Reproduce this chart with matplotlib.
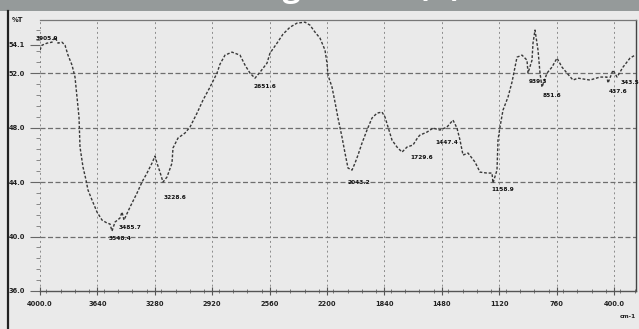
import matplotlib.pyplot as plt
from matplotlib.lines import Line2D
from matplotlib.patches import Rectangle
from matplotlib.ticker import MultipleLocator

# spectrum (wavenumber cm-1, %T)
wavenumber = [4000.0, 3987.5, 3956.1, 3924.7, 3905.9, 3887.1, 3862.0, 3843.2, 3824.4, 3799.3,
              3780.5, 3767.9, 3755.4, 3749.1, 3730.3, 3711.5, 3698.9, 3673.8, 3642.5, 3611.1,
              3579.8, 3561.0, 3548.4, 3529.6, 3498.3, 3485.7, 3473.2, 3435.5, 3391.6, 3360.3,
              3328.9, 3297.6, 3278.7, 3266.2, 3247.4, 3228.6, 3203.5, 3172.2, 3165.9, 3134.5,
              3090.6, 3059.2, 3015.3, 2977.7, 2933.8, 2889.9, 2871.1, 2839.7, 2795.8, 2745.6,
              2714.3, 2682.9, 2651.6, 2620.2, 2576.3, 2557.5, 2513.6, 2476.0, 2432.1, 2388.2,
              2338.0, 2306.6, 2275.3, 2243.9, 2212.6, 2200.0, 2193.7, 2168.6, 2149.8, 2131.0,
              2105.9, 2087.1, 2068.3, 2043.2, 2024.4, 2005.6, 1980.5, 1949.1, 1917.8, 1886.4,
              1855.0, 1836.2, 1817.4, 1792.3, 1760.9, 1729.6, 1698.2, 1660.6, 1629.3, 1616.7,
              1572.8, 1535.2, 1491.3, 1447.4, 1409.8, 1384.7, 1365.8, 1347.0, 1315.7, 1271.8,
              1240.4, 1196.5, 1165.2, 1158.9, 1133.8, 1127.5, 1115.0, 1096.2, 1064.8, 1039.7,
              1020.9, 1008.3, 977.0, 945.6, 939.3, 914.3, 908.0, 895.4, 876.6, 864.1,
              851.6, 820.2, 788.9, 757.5, 726.2, 694.8, 657.2, 625.8, 550.5, 487.8,
              443.9, 437.6, 406.2, 381.1, 343.5, 299.6, 268.2]
transmittance = [53.69, 54.05, 54.20, 54.27, 54.64, 54.20, 54.27, 54.05, 53.32, 52.59,
                 51.71, 50.24, 48.77, 46.57, 45.10, 44.15, 43.41, 42.68, 41.80, 41.21,
                 40.99, 40.92, 40.40, 41.06, 41.36, 41.80, 41.21, 42.16, 43.19, 44.00,
                 44.66, 45.39, 45.91, 45.39, 44.73, 44.00, 44.37, 45.39, 46.50, 47.23,
                 47.60, 48.04, 49.06, 50.02, 50.97, 52.00, 52.66, 53.32, 53.54, 53.32,
                 52.59, 52.00, 51.63, 52.07, 52.73, 53.47, 54.20, 54.86, 55.37, 55.67,
                 55.74, 55.52, 55.01, 54.57, 53.69, 52.73, 51.85, 50.97, 49.87, 48.70,
                 47.30, 46.13, 45.03, 44.88, 45.39, 45.98, 46.86, 47.82, 48.70, 49.06,
                 49.14, 48.77, 48.04, 47.08, 46.57, 46.20, 46.57, 46.72, 47.30, 47.45,
                 47.67, 47.96, 47.82, 48.04, 48.55, 47.96, 47.08, 45.98, 46.13, 45.47,
                 44.73, 44.66, 44.66, 43.93, 44.88, 47.08, 48.04, 49.28, 50.24, 51.34,
                 52.44, 53.17, 53.32, 52.95, 52.00, 52.95, 54.20, 55.16, 53.69, 52.00,
                 50.97, 52.00, 52.44, 53.10, 52.44, 52.00, 51.49, 51.63, 51.49, 51.71,
                 51.71, 51.27, 52.22, 51.71, 52.44, 53.10, 53.32]

# peak-pick labels
peak_wn = [3905.9, 3548.4, 3485.7, 3228.6, 2651.6, 2043.2, 1729.6, 1447.4, 1158.9, 939.3, 851.6, 437.6, 343.5]
peak_t = [54.64, 40.40, 41.80, 44.00, 51.63, 44.88, 46.20, 48.04, 43.93, 52.00, 50.97, 51.27, 52.44]
peak_text = ['3905.9', '3548.4', '3485.7', '3228.6', '2651.6', '2043.2', '1729.6', '1447.4',
             '1158.9', '939.3', '851.6', '437.6', '343.5']
# label offsets in points
peak_offset = [(-6, -1), (6, -5), (6, -11), (9, -11), (7, -6), (5, -9), (14, -4), (0, -11),
               (7, -5), (7, -6), (7, -6), (7, -6), (5, -11)]

x_ticks = [4000, 3640, 3280, 2920, 2560, 2200, 1840, 1480, 1120, 760, 400]
x_labels = ['4000.0', '3640', '3280', '2920', '2560', '2200', '1840', '1480', '1120', '760', '400.0']
y_ticks = [36.0, 40.0, 44.0, 48.0, 52.0, 54.1]
y_labels = ['36.0', '40.0', '44.0', '48.0', '52.0', '54.1']
y_grid = [40.0, 44.0, 48.0, 52.0]

bg = '#eaeaea'
ink = '#383838'

fig = plt.figure(figsize=(6.39, 3.29), dpi=100, facecolor=bg)

# grey title bar; the scan cuts the title so only descenders show
fig.add_artist(Rectangle((0, 1 - 10.5 / 329), 1, 10.5 / 329, transform=fig.transFigure,
                         facecolor='#959a9a', edgecolor='none'))
fig.text(462 / 639, 1 + 3.5 / 329, 'FTIR Screening Result (A)', color='white',
         fontsize=23, fontweight='bold', family='Open Sans', ha='right', va='baseline')
# scanner edge on the left
fig.add_artist(Line2D([7.5 / 639, 7.5 / 639], [0, 1 - 10.5 / 329], transform=fig.transFigure,
                      color='#222222', lw=1.6))

ax = fig.add_axes([40 / 639, 38 / 329, 596 / 639, 271 / 329])
ax.set_facecolor(bg)
ax.set_xlim(4000, 262)
ax.set_ylim(36.0, 55.9)

for xv in x_ticks:
    ax.axvline(xv, color='#8c8c8c', lw=0.7, ls=(0, (2, 3)), zorder=1)
for yv in y_grid:
    ax.axhline(yv, color='#6e6e6e', lw=0.9, ls=(0, (4, 2)), zorder=1)

ax.plot(wavenumber, transmittance, color=ink, lw=1.0, ls=(0, (2, 1.3)), zorder=3)

for wn, t, txt, off in zip(peak_wn, peak_t, peak_text, peak_offset):
    ax.annotate(txt, (wn, t), xytext=off, textcoords='offset points', fontsize=4.2,
                fontweight='bold', color='#111111', ha='center', va='center')

ax.set_xticks(x_ticks)
ax.set_xticklabels(x_labels)
ax.set_yticks(y_ticks)
ax.set_yticklabels(y_labels)
ax.xaxis.set_minor_locator(MultipleLocator(90))
ax.yaxis.set_minor_locator(MultipleLocator(0.8))
ax.tick_params(axis='x', which='major', direction='inout', length=6, width=0.8, color='#555555',
               labelsize=4.8, pad=4, labelcolor='#222222')
ax.tick_params(axis='x', which='minor', direction='inout', length=3, width=0.6, color='#666666')
ax.tick_params(axis='y', which='major', direction='out', length=7, width=0.8, color='#666666',
               labelsize=4.8, pad=4, labelcolor='#222222')
ax.tick_params(axis='y', which='minor', direction='out', length=3, width=0.6, color='#777777')
for lab in ax.get_xticklabels() + ax.get_yticklabels():
    lab.set_fontweight('bold')

ax.spines['left'].set_visible(False)
ax.spines['top'].set_color('#777777')
ax.spines['top'].set_linewidth(0.9)
ax.spines['right'].set_color('#444444')
ax.spines['right'].set_linewidth(1.0)
ax.spines['bottom'].set_color('#555555')
ax.spines['bottom'].set_linewidth(1.0)

ax.annotate('%T', (0, 1), xycoords='axes fraction', xytext=(-16, 0), textcoords='offset points',
            fontsize=4.8, fontweight='bold', color='#222222', ha='center', va='center')
ax.text(1.0, -0.095, 'cm-1', transform=ax.transAxes, fontsize=4.2, fontweight='bold',
        color='#222222', ha='right', va='center')

fig.savefig('out.png', dpi=100, facecolor=bg)
